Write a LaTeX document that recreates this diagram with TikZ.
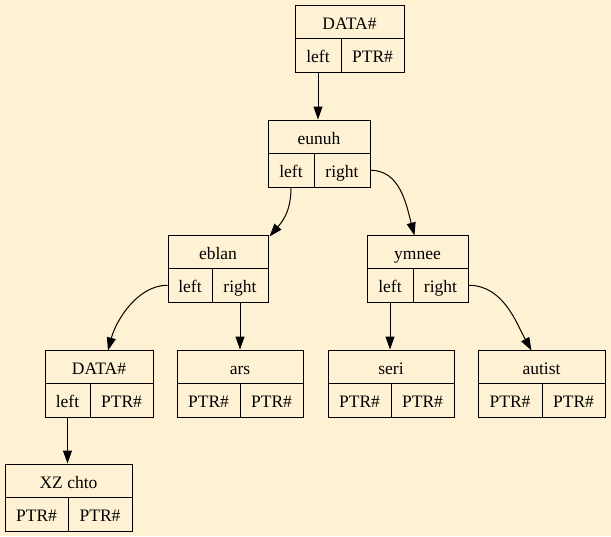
\documentclass[tikz,border=0pt]{standalone}
\usepackage{fontspec}
\setmainfont{Liberation Serif}
\usetikzlibrary{arrows.meta}
\definecolor{bgc}{HTML}{FFF2D4}
\tikzset{
  hdr/.style={draw=black, line width=1pt, rectangle, inner sep=0pt, minimum height=33.5pt, text height=15pt, text depth=0pt, font=\fontsize{17.5}{20}\selectfont},
  cellbox/.style={hdr},
  edge/.style={draw=black, line width=1pt, -{Triangle[length=13pt,width=9pt]}}
}
\newcommand{\rec}[8]{%
  \node[hdr, minimum width={#4-#2}] (#1) at ({(#2+#4)/2},{#5+16.75}) {#6};
  \node[cellbox, minimum width={#3-#2}] (#1-l) at ({(#2+#3)/2},{#5+50.25}) {#7};
  \node[cellbox, minimum width={#4-#3}] (#1-r) at ({(#3+#4)/2},{#5+50.25}) {#8};
}
\begin{document}
\begin{tikzpicture}[x=1pt,y=-1pt]
\fill[bgc] (0,0) rectangle (611,536);
\useasboundingbox (0,0) rectangle (611,536);
\rec{root}{295}{341}{404}{5}{DATA\#}{left}{PTR\#}
\rec{eunuh}{268}{314}{370}{120}{eunuh}{left}{right}
\rec{eblan}{168}{212}{268}{235}{eblan}{left}{right}
\rec{ymnee}{367}{413}{468}{235}{ymnee}{left}{right}
\rec{dd}{45}{90}{153}{350}{DATA\#}{left}{PTR\#}
\rec{ars}{177}{240}{303}{350}{ars}{PTR\#}{PTR\#}
\rec{seri}{328}{391}{454}{350}{seri}{PTR\#}{PTR\#}
\rec{autist}{478}{542}{605}{350}{autist}{PTR\#}{PTR\#}
\rec{xz}{5}{68}{132}{464}{XZ chto}{PTR\#}{PTR\#}
% edges
\draw[edge] (root-l.south) -- (root-l.south |- eunuh.north);
\draw[edge] (eunuh-l.south) .. controls +(0,25) and +(12,-14) .. ([xshift=1pt,yshift=-2pt]eblan.north east);
\draw[edge] (eunuh-r.east) .. controls +(30,0) and +(-8,-30) .. ([xshift=-3pt,yshift=-1pt]ymnee.north);
\draw[edge] (eblan-l.west) .. controls +(-30,0) and +(8,-30) .. ([xshift=9pt,yshift=-1pt]dd.north);
\draw[edge] (eblan-r.south) -- (eblan-r.south |- ars.north);
\draw[edge] (ymnee-l.south) -- (ymnee-l.south |- seri.north);
\draw[edge] (ymnee-r.east) .. controls +(35,0) and +(-15,-27) .. ([xshift=-10pt,yshift=-1pt]autist.north);
\draw[edge] (dd-l.south) -- (dd-l.south |- xz.north);
\end{tikzpicture}
\end{document}
